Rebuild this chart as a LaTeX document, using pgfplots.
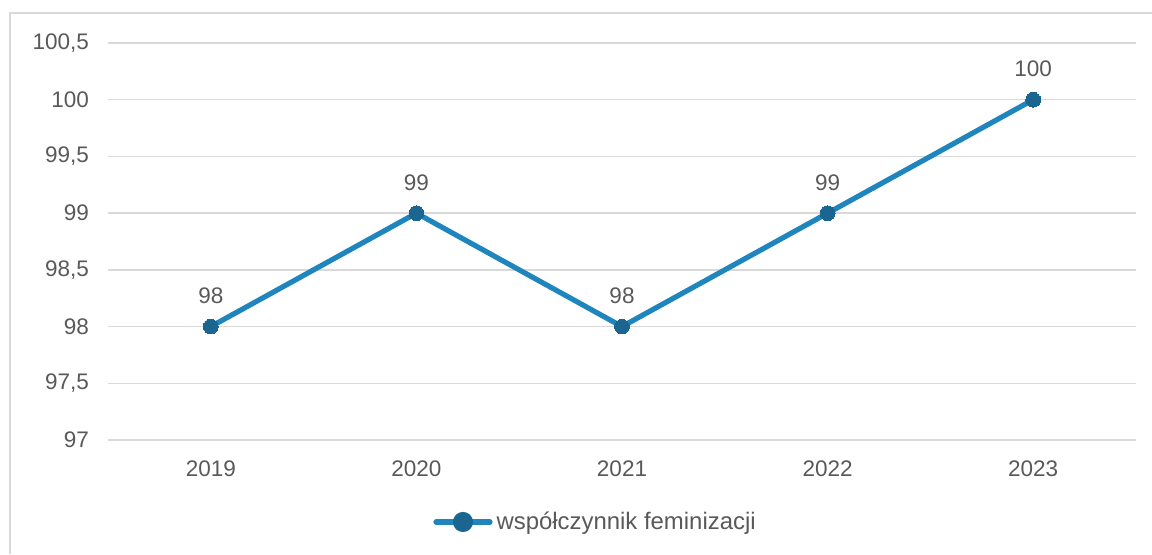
\documentclass[border=0pt]{standalone}
\usepackage{pgfplots}
\pgfplotsset{compat=1.18}
\usepackage{fontspec}
\setmainfont{Liberation Sans}
\definecolor{linec}{HTML}{1F86BD}
\definecolor{markc}{HTML}{1A6690}
\definecolor{gridc}{HTML}{D9D9D9}
\definecolor{txt}{HTML}{595959}
\begin{document}
\begin{tikzpicture}[x=1bp,y=1bp]
\path[use as bounding box] (0,0) rectangle (576,277);
\draw[gridc, line width=0.9bp] (5,0) -- (5,270.5) -- (577,270.5);
\begin{axis}[
  at={(54bp,57bp)}, anchor=south west,
  scale only axis, width=514bp, height=198.5bp,
  xmin=-0.5, xmax=4.5, ymin=97, ymax=100.5,
  xtick={0,1,2,3,4}, xticklabels={2019,2020,2021,2022,2023},
  ytick={97,97.5,98,98.5,99,99.5,100,100.5},
  ymajorgrids, grid style={gridc, line width=0.7bp},
  separate axis lines,
  y axis line style={draw=none},
  x axis line style={draw=gridc, line width=0.7bp},
  axis x line*=bottom,
  major tick length=0pt,
  tick label style={font=\fontsize{11.3}{13}\selectfont, text=txt},
  /pgf/number format/use comma,
  /pgf/number format/1000 sep={},
  /pgf/number format/assume math mode=true,
  xticklabel style={yshift=-7bp},
  yticklabel style={xshift=-6bp},
  legend style={at={(0.3142,-0.2065)}, anchor=west, draw=none,
    font=\fontsize{12}{14}\selectfont, text=txt, inner sep=1bp},
  legend image code/.code={
    \draw[linec, line width=2.6bp, line cap=round] (0bp,0bp) -- (27bp,0bp);
    \fill[markc] (13.5bp,0bp) circle (3.7bp);},
  clip=false,
]
\addplot[linec, line width=2.6bp, mark=*, mark size=3.7bp,
  mark options={fill=markc, draw=markc, line width=0pt},
  nodes near coords, every node near coord/.append style={font=\fontsize{11.3}{13}\selectfont, text=txt, yshift=8bp},
  ] coordinates {(0,98) (1,99) (2,98) (3,99) (4,100)};
\addlegendentry{współczynnik feminizacji}
\end{axis}
\end{tikzpicture}
\end{document}
